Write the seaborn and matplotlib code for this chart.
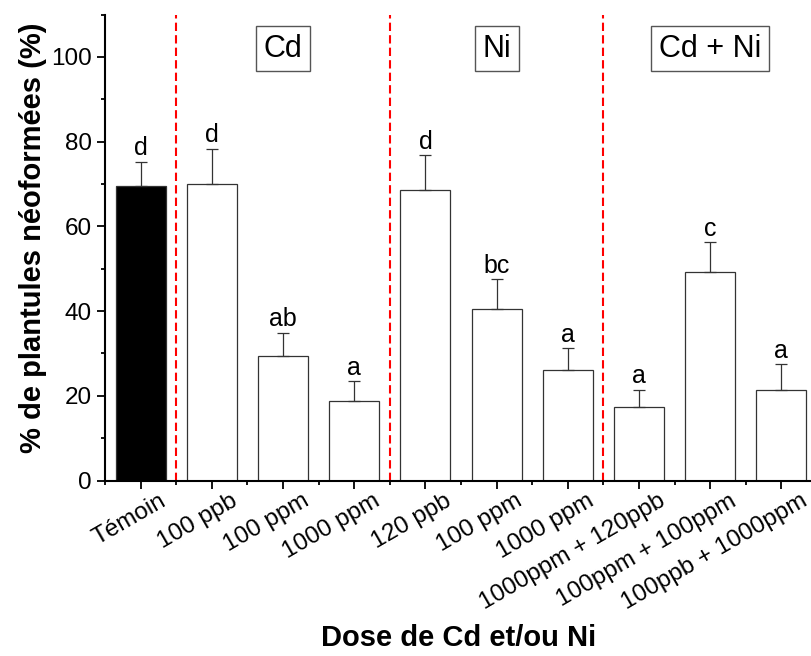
import pandas as pd
import matplotlib
matplotlib.use("Agg")
import matplotlib.pyplot as plt
import matplotlib.transforms as mtransforms
from matplotlib.ticker import MultipleLocator
import seaborn as sns

# data
treatments = ["T", "Cd1", "Cd2", "Cd3", "Ni1", "Ni2", "Ni3", "CN1", "CN2", "CN3"]
tick_labels = ["Témoin", "100 ppb", "100 ppm", "1000 ppm", "120 ppb", "100 ppm",
               "1000 ppm", "1000ppm + 120ppb", "100ppm + 100ppm", "100ppb + 1000ppm"]
means = [69.4, 70.0, 29.4, 18.7, 68.6, 40.6, 26.0, 17.4, 49.2, 21.4]
errors = [5.9, 8.3, 5.5, 4.8, 8.2, 6.9, 5.3, 4.0, 7.1, 6.1]
letters = ["d", "d", "ab", "a", "d", "bc", "a", "a", "c", "a"]
group_names = ["Cd", "Ni", "Cd + Ni"]
group_centers = [2, 5, 8]
separators = [0.5, 3.5, 6.5]

df = pd.DataFrame({"treatment": treatments, "pct": means})
bar_colors = {t: ("black" if i == 0 else "white") for i, t in enumerate(treatments)}

sns.set_style("ticks")
plt.rcParams["font.family"] = ["Liberation Sans", "DejaVu Sans"]
plt.rcParams.update({"text.color": "black", "axes.labelcolor": "black",
                     "xtick.color": "black", "ytick.color": "black"})

fig = plt.figure(figsize=(8.12, 6.56), dpi=100)
ax = fig.add_axes([105 / 812, 1 - 480.5 / 656, 712 / 812, 466 / 656])

sns.barplot(data=df, x="treatment", y="pct", hue="treatment", palette=bar_colors,
            order=treatments, width=0.7, edgecolor="#333333", linewidth=0.9,
            legend=False, ax=ax)
ax.errorbar(range(len(means)), means, yerr=[[0] * len(errors), errors], fmt="none",
            ecolor="#333333", elinewidth=0.9, capsize=4.5, capthick=0.9)

for i, (m, e, s) in enumerate(zip(means, errors, letters)):
    ax.annotate(s, (i, m + e), xytext=(0, 1), textcoords="offset points",
                ha="center", va="bottom", fontsize=18)

for x in separators:
    ax.axvline(x, color="red", lw=1.5, ls=(0, (4, 2)), zorder=0)

for name, cx in zip(group_names, group_centers):
    ax.text(cx, 101.9, name, ha="center", va="center", fontsize=22,
            bbox=dict(boxstyle="square,pad=0.25", fc="white", ec="#555555", lw=1))

ax.set_xlim(-0.5, 9.5)
ax.set_ylim(0, 110)
ax.yaxis.set_major_locator(MultipleLocator(20))
ax.yaxis.set_minor_locator(MultipleLocator(10))
ax.set_xticks(range(len(tick_labels)))
ax.set_xticks([x - 0.5 for x in range(len(tick_labels) + 1)], minor=True)
ax.set_xticklabels([])

# rotated category labels, baseline end placed right of and below each tick
shift = mtransforms.ScaledTranslation(19.5 / 72, -17.3 / 72, fig.dpi_scale_trans)
lbl_trans = ax.get_xaxis_transform() + shift
for i, lbl in enumerate(tick_labels):
    ax.text(i, 0, lbl, transform=lbl_trans, rotation=30, ha="right", va="baseline",
            rotation_mode="anchor", fontsize=17.5, clip_on=False)

ax.tick_params(axis="y", labelsize=17.5)
ax.tick_params(which="major", direction="out", length=6, width=1.3, color="black")
ax.tick_params(which="minor", direction="out", length=3.2, width=1.3, color="black")

for side in ["top", "right"]:
    ax.spines[side].set_visible(False)
for side in ["left", "bottom"]:
    ax.spines[side].set_linewidth(1.5)
    ax.spines[side].set_color("black")

ax.set_ylabel("% de plantules néoformées (%)", fontsize=21, fontweight="bold")
ax.set_xlabel("Dose de Cd et/ou Ni", fontsize=21, fontweight="bold")
ax.yaxis.set_label_coords(-0.081, 0.521)
ax.xaxis.set_label_coords(0.497, -0.309)

fig.savefig("out.png", dpi=100)
